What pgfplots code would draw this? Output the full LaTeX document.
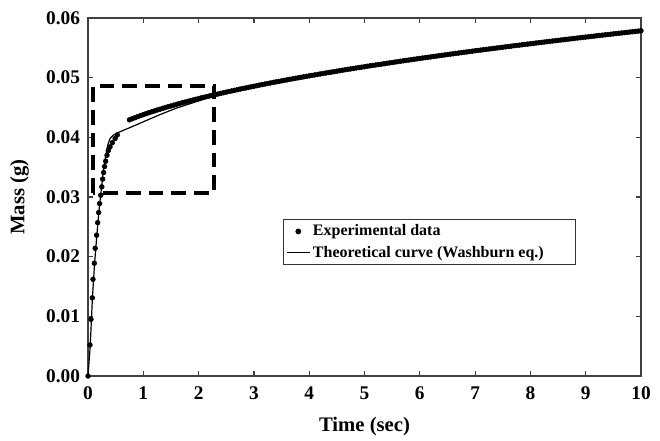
\documentclass[border=0pt]{standalone}
\usepackage{pgfplots}
\pgfplotsset{compat=1.18}
\usepackage{fontspec}
\setmainfont{Liberation Serif}

\pgfplotstableread{
t m
0 0
0.036 0.0052
0.054 0.0095
0.078 0.0131
0.090 0.0162
0.115 0.0189
0.130 0.0214
0.156 0.0236
0.175 0.0257
0.193 0.0274
0.210 0.0289
0.230 0.0303
0.250 0.0317
0.265 0.0330
0.283 0.0341
0.300 0.0351
0.320 0.0360
0.344 0.0370
0.368 0.0378
0.398 0.0384
0.440 0.0391
0.490 0.0398
0.530 0.0404
0.75 0.04293
0.80 0.04311
0.85 0.04329
0.90 0.04347
0.95 0.04364
1.00 0.04380
1.05 0.04396
1.10 0.04412
1.15 0.04427
1.20 0.04442
1.25 0.04457
1.30 0.04471
1.35 0.04485
1.40 0.04499
1.45 0.04513
1.50 0.04526
1.55 0.04539
1.60 0.04552
1.65 0.04565
1.70 0.04578
1.75 0.04590
1.80 0.04602
1.85 0.04614
1.90 0.04626
1.95 0.04638
2.00 0.04649
2.05 0.04661
2.10 0.04672
2.15 0.04683
2.20 0.04694
2.25 0.04705
2.30 0.04716
2.35 0.04726
2.40 0.04737
2.45 0.04747
2.50 0.04758
2.55 0.04768
2.60 0.04778
2.65 0.04788
2.70 0.04798
2.75 0.04808
2.80 0.04818
2.85 0.04827
2.90 0.04837
2.95 0.04846
3.00 0.04856
3.05 0.04865
3.10 0.04875
3.15 0.04884
3.20 0.04893
3.25 0.04902
3.30 0.04911
3.35 0.04920
3.40 0.04929
3.45 0.04937
3.50 0.04946
3.55 0.04955
3.60 0.04963
3.65 0.04972
3.70 0.04980
3.75 0.04989
3.80 0.04997
3.85 0.05005
3.90 0.05014
3.95 0.05022
4.00 0.05030
4.05 0.05038
4.10 0.05046
4.15 0.05054
4.20 0.05062
4.25 0.05070
4.30 0.05078
4.35 0.05086
4.40 0.05093
4.45 0.05101
4.50 0.05109
4.55 0.05116
4.60 0.05124
4.65 0.05132
4.70 0.05139
4.75 0.05147
4.80 0.05154
4.85 0.05162
4.90 0.05169
4.95 0.05176
5.00 0.05183
5.05 0.05191
5.10 0.05198
5.15 0.05205
5.20 0.05212
5.25 0.05219
5.30 0.05226
5.35 0.05233
5.40 0.05240
5.45 0.05247
5.50 0.05254
5.55 0.05261
5.60 0.05268
5.65 0.05275
5.70 0.05282
5.75 0.05289
5.80 0.05295
5.85 0.05302
5.90 0.05309
5.95 0.05315
6.00 0.05322
6.05 0.05329
6.10 0.05335
6.15 0.05342
6.20 0.05348
6.25 0.05355
6.30 0.05361
6.35 0.05368
6.40 0.05374
6.45 0.05381
6.50 0.05387
6.55 0.05394
6.60 0.05400
6.65 0.05406
6.70 0.05412
6.75 0.05419
6.80 0.05425
6.85 0.05431
6.90 0.05437
6.95 0.05444
7.00 0.05450
7.05 0.05456
7.10 0.05462
7.15 0.05468
7.20 0.05474
7.25 0.05480
7.30 0.05486
7.35 0.05492
7.40 0.05498
7.45 0.05504
7.50 0.05510
7.55 0.05516
7.60 0.05522
7.65 0.05528
7.70 0.05534
7.75 0.05540
7.80 0.05545
7.85 0.05551
7.90 0.05557
7.95 0.05563
8.00 0.05568
8.05 0.05574
8.10 0.05580
8.15 0.05586
8.20 0.05591
8.25 0.05597
8.30 0.05603
8.35 0.05608
8.40 0.05614
8.45 0.05619
8.50 0.05625
8.55 0.05631
8.60 0.05636
8.65 0.05642
8.70 0.05647
8.75 0.05653
8.80 0.05658
8.85 0.05664
8.90 0.05669
8.95 0.05675
9.00 0.05680
9.05 0.05685
9.10 0.05691
9.15 0.05696
9.20 0.05702
9.25 0.05707
9.30 0.05712
9.35 0.05718
9.40 0.05723
9.45 0.05728
9.50 0.05733
9.55 0.05739
9.60 0.05744
9.65 0.05749
9.70 0.05754
9.75 0.05760
9.80 0.05765
9.85 0.05770
9.90 0.05775
9.95 0.05780
10.00 0.05786
}\expdata

\pgfplotstableread{
t m
0 0
0.04 0.0050
0.08 0.0131
0.12 0.0190
0.16 0.0236
0.20 0.0278
0.24 0.0312
0.28 0.0345
0.32 0.0370
0.36 0.0388
0.40 0.0398
0.45 0.0403
0.52 0.0407
0.80 0.0418
1.00 0.0426
1.30 0.0438
1.60 0.0449
2.00 0.0461
2.30 0.0470
3.00 0.0484
4.00 0.0502
5.00 0.0518
6.00 0.0532
7.00 0.0545
8.00 0.0557
9.00 0.0568
10.00 0.0578
}\theory

\begin{document}
\begin{tikzpicture}
\begin{axis}[
    scale only axis,
    width=414.75pt, height=268.5pt,
    xmin=0, xmax=10, ymin=0, ymax=0.06,
    xtick={0,1,...,10},
    ytick={0,0.01,...,0.06},
    axis line style={black!75, line width=0.9pt},
    every tick/.style={black!75, line width=0.9pt},
    major tick length=4pt,
    scaled y ticks=false,
    /pgf/number format/assume math mode=true,
    tick label style={font=\fontsize{14.5}{16}\selectfont\bfseries},
    yticklabel style={xshift=-2.5pt, /pgf/number format/.cd, fixed, fixed zerofill, precision=2},
    xticklabel style={yshift=-4.5pt},
    xlabel={Time (sec)},
    ylabel={Mass (g)},
    label style={font=\fontsize{15.5}{18}\selectfont\bfseries},
    xlabel style={yshift=-6pt},
    ylabel style={yshift=6pt},
    clip=false,
    legend style={
        at={(axis cs:3.53,0.0263)}, anchor=north west,
        draw=black!80, line width=0.7pt,
        font=\fontsize{12}{14}\selectfont\bfseries,
        row sep=2pt, inner xsep=2pt, inner ysep=2pt,
    },
    legend cell align=left,
]
\addplot[only marks, mark=*, mark size=1.8pt, black] table {\expdata};
\addlegendentry{Experimental data}
\addplot[black, line width=0.9pt] table {\theory};
\addlegendentry{Theoretical curve (Washburn eq.)\hspace*{20pt}}
\draw[black, line width=3pt, dash pattern=on 11pt off 6pt]
    (axis cs:0.09,0.0307) rectangle (axis cs:2.28,0.0486);
\end{axis}
\path[use as bounding box] ([shift={(-66pt,-41.25pt)}]current axis.south west)
    rectangle ([shift={(14.25pt,13.5pt)}]current axis.north east);
\end{tikzpicture}
\end{document}
